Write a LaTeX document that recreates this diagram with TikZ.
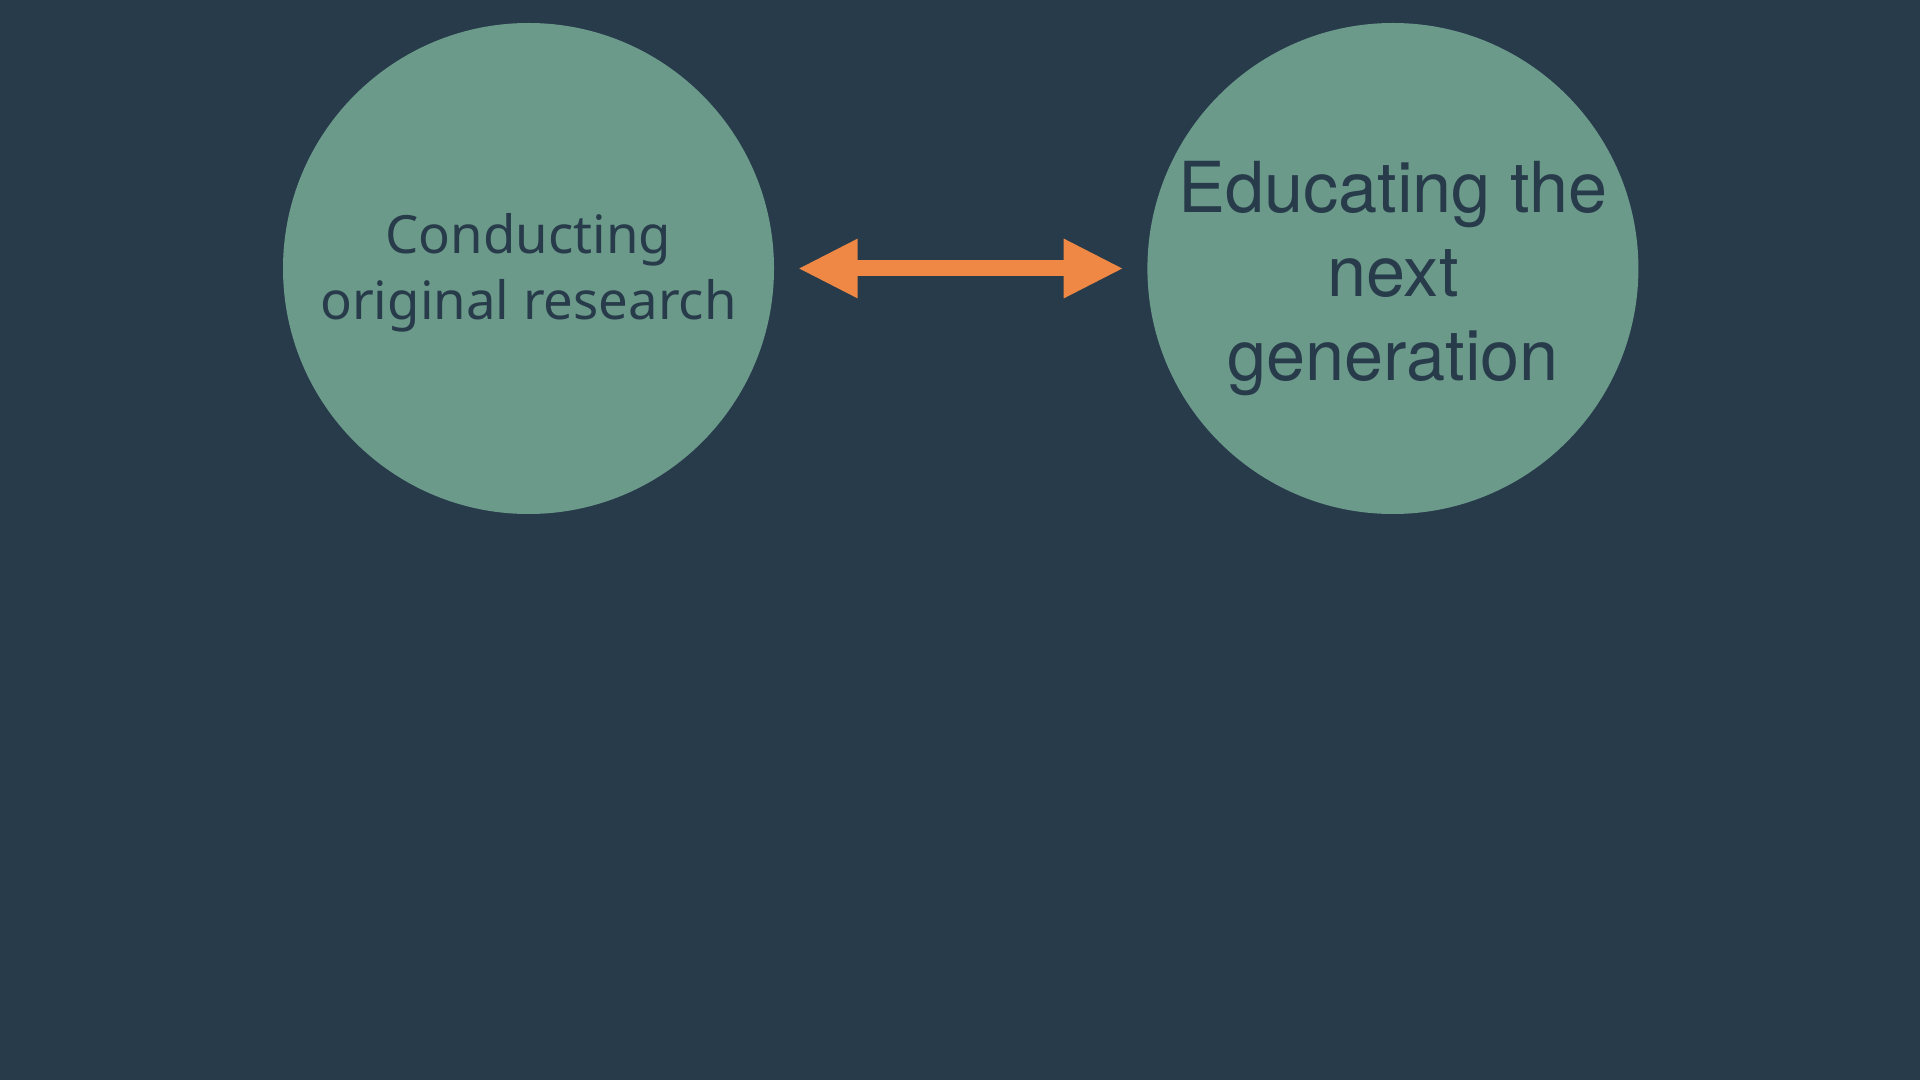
\documentclass[tikz,border=0pt]{standalone}
\usepackage{fontspec}
\setmainfont{TeX Gyre Heros}
\newfontfamily\notosans{Noto Sans}
\usetikzlibrary{positioning,arrows.meta}

\definecolor{slate}{HTML}{283B4B}
\definecolor{sage}{HTML}{6B9A8A}
\definecolor{tangerine}{HTML}{EE8844}

\begin{document}
\begin{tikzpicture}[
        topic/.style={circle, fill=sage, minimum size=4.91cm, inner sep=0pt},
        caption/.style={text=slate, align=center, inner sep=0pt},
        link/.style={{Triangle[length=6mm, width=5.5mm]}-{Triangle[length=6mm, width=5.5mm]}, draw=tangerine, fill=tangerine, line width=1.6mm, shorten <=2.3mm, shorten >=2.3mm},
        node distance=3.72cm
    ]

    % Hintergrund
    \fill[slate] (0,0) rectangle (19.2,-10.8);

    % Kreise
    \node[topic, label={[caption, yshift=-0.45mm, font=\notosans\fontsize{15pt}{18.7pt}\selectfont]center:Conducting\\original research}] (research) at (5.285,-2.685) {};
    \node[topic, right=of research, label={[caption, yshift=-1mm, font=\fontsize{20pt}{24pt}\selectfont]center:Educating the\\next\\generation}] (education) {};

    % Doppelpfeil
    \draw[link] (research) -- (education);

\end{tikzpicture}
\end{document}
